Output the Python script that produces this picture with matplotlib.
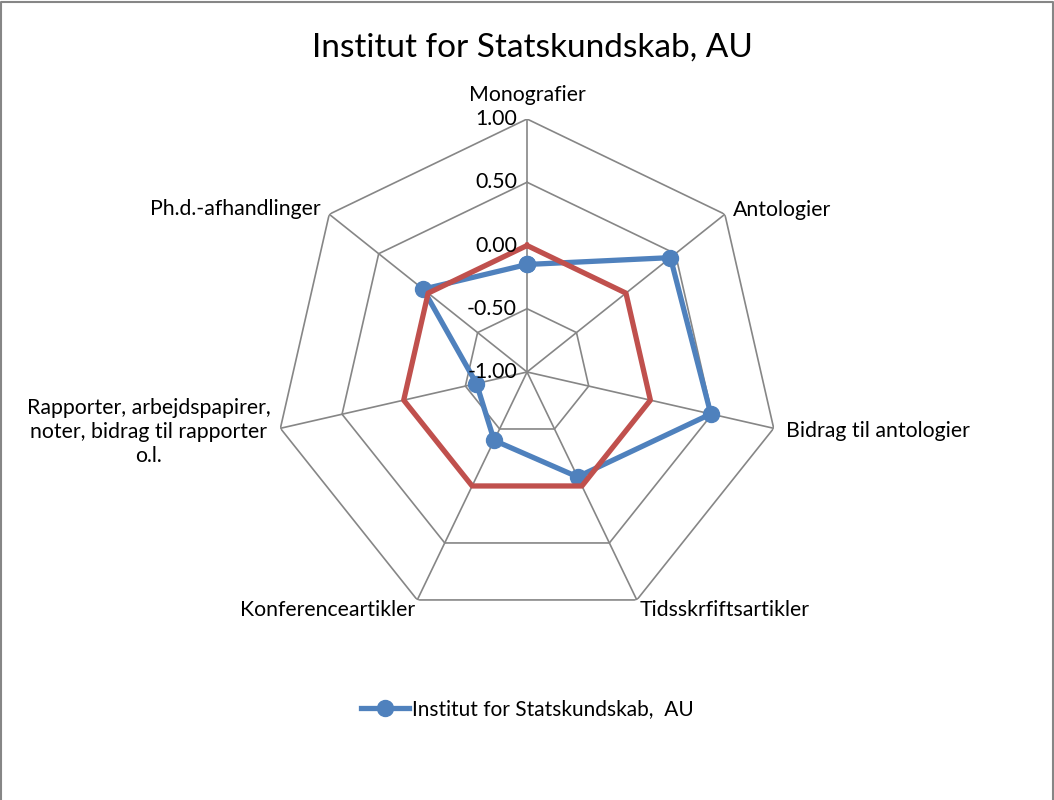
import numpy as np
import matplotlib
matplotlib.use("Agg")
import matplotlib.pyplot as plt
from matplotlib.lines import Line2D

plt.rcParams['font.family'] = ['Lato', 'DejaVu Sans']

categories = ['Monografier', 'Antologier', 'Bidrag til antologier', 'Tidsskrfiftsartikler',
              'Konferenceartikler', 'Rapporter, arbejdspapirer,\nnoter, bidrag til rapporter\no.l.',
              'Ph.d.-afhandlinger']
inst_values = [-0.15, 0.45, 0.49, -0.08, -0.40, -0.59, 0.05]
ref_values = [0.0, 0.0, 0.0, 0.0, 0.0, 0.0, 0.0]
levels = [-1.0, -0.5, 0.0, 0.5, 1.0]
level_labels = ['-1.00', '-0.50', '0.00', '0.50', '1.00']

# label placement: (dx, dy) in pixels from outer vertex, ha
label_pos = [((0, 24), 'center'), ((8, 4), 'left'), ((12, -3), 'left'), ((3, -10), 'left'),
             ((-2, -10), 'right'), ((-10, -4), 'right'), ((-9, 5), 'right')]

blue = '#4F81BD'
red = '#C0504D'
grid_col = '#868686'


def closed(vals):
    return list(vals) + [vals[0]]


n = len(categories)
angles = np.linspace(0, 2 * np.pi, n, endpoint=False)
ang_c = closed(angles)

fig = plt.figure(figsize=(10.54, 8.0), dpi=100)
ax = fig.add_axes([0.26, 0.21875, 0.48008, 0.6325], projection='polar')
ax.set_theta_offset(np.pi / 2)
ax.set_theta_direction(-1)
ax.set_ylim(-1, 1)
ax.grid(False)
ax.set_xticks([])
ax.set_yticks([])
ax.spines['polar'].set_visible(False)
ax.patch.set_alpha(0)

# heptagon grid + spokes
for lv in levels[1:]:
    ax.plot(ang_c, [lv] * (n + 1), color=grid_col, lw=1.2, zorder=1)
for a in angles:
    ax.plot([a, a], [-1, 1], color=grid_col, lw=1.2, zorder=1)

ax.plot(ang_c, closed(inst_values), color=blue, lw=3.8, marker='o', markersize=11.5,
        label='Institut for Statskundskab,  AU', zorder=3)
ax.plot(ang_c, closed(ref_values), color=red, lw=3.8, zorder=4)

for lv, txt in zip(levels, level_labels):
    ax.annotate(txt, xy=(0, lv), xytext=(-10, 0), textcoords='offset pixels',
                ha='right', va='center', fontsize=15.3, zorder=5)

for a, lab, ((dx, dy), ha) in zip(angles, categories, label_pos):
    ax.annotate(lab, xy=(a, 1), xytext=(dx, dy), textcoords='offset pixels',
                ha=ha, va='center', fontsize=15.3, multialignment='center', linespacing=1.25)

fig.text(0.505, 0.941, 'Institut for Statskundskab, AU', ha='center', va='center', fontsize=24)

fig.legend(loc='center', bbox_to_anchor=(0.5, 0.114), frameon=False, fontsize=15,
           handlelength=2.3, handletextpad=0.15)

# chart area border (top, left, right)
fig.lines.append(Line2D([0.001, 0.001, 0.999, 0.999], [0.0, 0.998, 0.998, 0.0],
                        transform=fig.transFigure, color=grid_col, lw=1.5))

fig.savefig('out.png', dpi=100)
